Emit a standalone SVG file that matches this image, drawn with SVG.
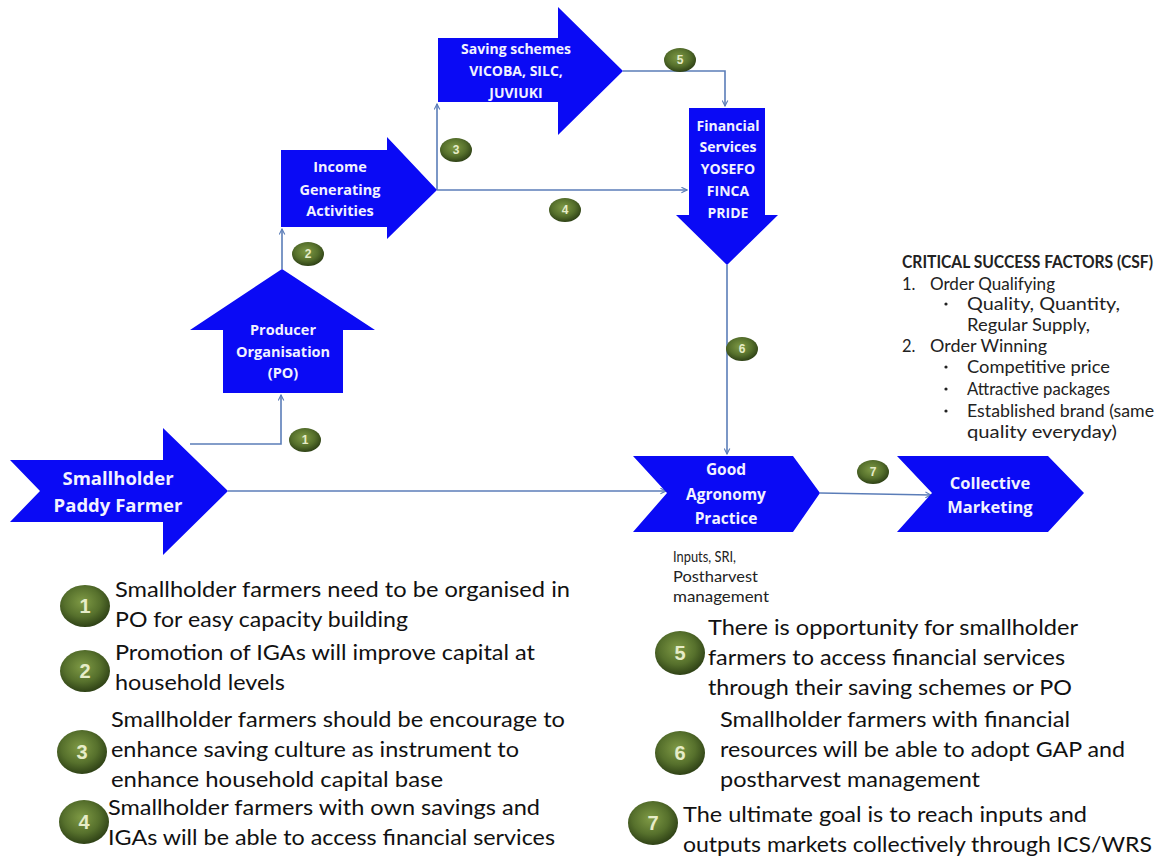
<svg xmlns="http://www.w3.org/2000/svg" width="1165" height="859" viewBox="0 0 1165 859">
  <defs>
    <radialGradient id="badgeFill" cx="45%" cy="40%" r="60%">
      <stop offset="0" stop-color="#7f9a45"/>
      <stop offset="0.6" stop-color="#56702c"/>
      <stop offset="1" stop-color="#2f4216"/>
    </radialGradient>
    <marker id="arr" viewBox="0 0 10 10" refX="9" refY="5" markerWidth="7" markerHeight="7" orient="auto" markerUnits="userSpaceOnUse">
      <path d="M1,1 L9,5 L1,9" fill="none" stroke="#5b7db8" stroke-width="1.6"/>
    </marker>
    <style>
      .shape { fill: #0a0af5; }
      .lbl { font-family: "Open Sans", "Liberation Sans", sans-serif; font-weight: bold; fill: #f2f2ff; text-anchor: middle; }
      .conn { fill: none; stroke: #5b7db8; stroke-width: 1.6; marker-end: url(#arr); }
      .badge { fill: url(#badgeFill); }
      .bnum { font-family: "Liberation Sans", sans-serif; font-weight: bold; fill: #e6ecc8; text-anchor: middle; }
      .note { font-family: Lato, "Liberation Sans", sans-serif; font-size: 21px; fill: #111; }
      .csf { font-family: Lato, "Liberation Sans", sans-serif; font-size: 16.5px; fill: #222; }
      .dot { fill: #222; }
      .small { font-family: Lato, "Liberation Sans", sans-serif; font-size: 16px; fill: #222; }
    </style>
  </defs>

  <rect width="1165" height="859" fill="#ffffff"/>

  <!-- connectors -->
  <g id="connectors">
    <path class="conn" d="M190,444 H281 V395"/>
    <path class="conn" d="M282,269 V229"/>
    <path class="conn" d="M437,190 V104"/>
    <path class="conn" d="M437,190 H687"/>
    <path class="conn" d="M623,71 H725 V106"/>
    <path class="conn" d="M727,265 V454"/>
    <path class="conn" d="M228,491 H666"/>
    <path class="conn" d="M820,493 L931,495"/>
  </g>

  <!-- flow nodes -->
  <g id="farmer">
    <polygon class="shape" points="10,460 163,460 163,428 228,491 163,555 163,522 10,522 40,491"/>
    <text class="lbl" font-size="18.5" x="118" y="485">Smallholder</text>
    <text class="lbl" font-size="18.5" x="118" y="512">Paddy Farmer</text>
  </g>

  <g id="producer-organisation">
    <polygon class="shape" points="282,269 375,330 343,330 343,393 223,393 223,330 190,330"/>
    <text class="lbl" font-size="14.5" x="283" y="335">Producer</text>
    <text class="lbl" font-size="14.5" x="283" y="357">Organisation</text>
    <text class="lbl" font-size="14.5" x="283" y="378">(PO)</text>
  </g>

  <g id="income-generating">
    <polygon class="shape" points="281,150 387,150 387,137 437,190 387,239 387,227 281,227"/>
    <text class="lbl" font-size="14.5" x="340" y="172">Income</text>
    <text class="lbl" font-size="14.5" x="340" y="195">Generating</text>
    <text class="lbl" font-size="14.5" x="340" y="216">Activities</text>
  </g>

  <g id="saving-schemes">
    <polygon class="shape" points="438,38 558,38 558,7 623,71 558,135 558,102 438,102"/>
    <text class="lbl" font-size="14" x="516" y="54">Saving schemes</text>
    <text class="lbl" font-size="14" x="516" y="76">VICOBA, SILC,</text>
    <text class="lbl" font-size="14" x="516" y="98">JUVIUKI</text>
  </g>

  <g id="financial-services">
    <polygon class="shape" points="689,108 765,108 765,215 778,215 727,265 676,215 689,215"/>
    <text class="lbl" font-size="14" x="728" y="131">Financial</text>
    <text class="lbl" font-size="14" x="728" y="152">Services</text>
    <text class="lbl" font-size="14" x="728" y="174">YOSEFO</text>
    <text class="lbl" font-size="14" x="728" y="196">FINCA</text>
    <text class="lbl" font-size="14" x="728" y="218">PRIDE</text>
  </g>

  <g id="good-agronomy">
    <polygon class="shape" points="633,456 793,456 820,493 793,532 633,532 667,493"/>
    <text class="lbl" font-size="15.5" x="726" y="475">Good</text>
    <text class="lbl" font-size="15.5" x="726" y="500">Agronomy</text>
    <text class="lbl" font-size="15.5" x="726" y="524">Practice</text>
    <text class="small" x="673" y="562" textLength="63" lengthAdjust="spacingAndGlyphs">Inputs, SRI,</text>
    <text class="small" x="673" y="582" textLength="85" lengthAdjust="spacingAndGlyphs">Postharvest</text>
    <text class="small" x="673" y="602" textLength="96" lengthAdjust="spacingAndGlyphs">management</text>
  </g>

  <g id="collective-marketing">
    <polygon class="shape" points="897,456 1048,456 1084,493 1048,532 897,532 932,493"/>
    <text class="lbl" font-size="16.5" x="990" y="489">Collective</text>
    <text class="lbl" font-size="16.5" x="990" y="513">Marketing</text>
  </g>

  <!-- step badges on the flow -->
  <g id="step-badges">
    <ellipse class="badge" cx="305" cy="440" rx="16" ry="12"/>
    <text class="bnum" font-size="12" x="305" y="444">1</text>
    <ellipse class="badge" cx="308" cy="254" rx="16" ry="12"/>
    <text class="bnum" font-size="12" x="308" y="258">2</text>
    <ellipse class="badge" cx="456" cy="150" rx="16" ry="12"/>
    <text class="bnum" font-size="12" x="456" y="154">3</text>
    <ellipse class="badge" cx="565" cy="210" rx="16" ry="12"/>
    <text class="bnum" font-size="12" x="565" y="214">4</text>
    <ellipse class="badge" cx="680" cy="60" rx="16" ry="12"/>
    <text class="bnum" font-size="12" x="680" y="64">5</text>
    <ellipse class="badge" cx="742" cy="349" rx="16" ry="12"/>
    <text class="bnum" font-size="12" x="742" y="353">6</text>
    <ellipse class="badge" cx="873" cy="472" rx="16" ry="12"/>
    <text class="bnum" font-size="12" x="873" y="476">7</text>
  </g>

  <!-- critical success factors -->
  <g id="csf">
    <text class="csf" x="902" y="268" font-weight="bold" textLength="251" lengthAdjust="spacingAndGlyphs">CRITICAL SUCCESS FACTORS (CSF)</text>
    <text class="csf" x="902" y="290">1.</text>
    <text class="csf" x="930" y="290" textLength="125" lengthAdjust="spacingAndGlyphs">Order Qualifying</text>
    <circle class="dot" cx="946" cy="304" r="1.6"/>
    <text class="csf" x="967" y="310" textLength="153" lengthAdjust="spacingAndGlyphs">Quality, Quantity,</text>
    <text class="csf" x="967" y="331" textLength="123" lengthAdjust="spacingAndGlyphs">Regular Supply,</text>
    <text class="csf" x="902" y="352">2.</text>
    <text class="csf" x="930" y="352" textLength="117" lengthAdjust="spacingAndGlyphs">Order Winning</text>
    <circle class="dot" cx="946" cy="367" r="1.6"/>
    <text class="csf" x="967" y="373" textLength="143" lengthAdjust="spacingAndGlyphs">Competitive price</text>
    <circle class="dot" cx="946" cy="389" r="1.6"/>
    <text class="csf" x="967" y="395" textLength="143" lengthAdjust="spacingAndGlyphs">Attractive packages</text>
    <circle class="dot" cx="946" cy="411" r="1.6"/>
    <text class="csf" x="967" y="417" textLength="187" lengthAdjust="spacingAndGlyphs">Established brand (same</text>
    <text class="csf" x="967" y="438" textLength="150" lengthAdjust="spacingAndGlyphs">quality everyday)</text>
  </g>

  <!-- numbered notes -->
  <g id="note-1">
    <ellipse class="badge" cx="85" cy="606" rx="25" ry="21"/>
    <text class="bnum" font-size="20" x="85" y="613">1</text>
    <text class="note" x="115" y="597" textLength="455" lengthAdjust="spacingAndGlyphs">Smallholder farmers need to be organised in</text>
    <text class="note" x="115" y="627" textLength="293" lengthAdjust="spacingAndGlyphs">PO for easy capacity building</text>
  </g>
  <g id="note-2">
    <ellipse class="badge" cx="85" cy="671" rx="25" ry="21"/>
    <text class="bnum" font-size="20" x="85" y="678">2</text>
    <text class="note" x="115" y="660" textLength="420" lengthAdjust="spacingAndGlyphs">Promotion of IGAs will improve capital at</text>
    <text class="note" x="115" y="690" textLength="170" lengthAdjust="spacingAndGlyphs">household levels</text>
  </g>
  <g id="note-3">
    <ellipse class="badge" cx="82" cy="752" rx="25" ry="22"/>
    <text class="bnum" font-size="20" x="82" y="759">3</text>
    <text class="note" x="111" y="727" textLength="454" lengthAdjust="spacingAndGlyphs">Smallholder farmers should be encourage to</text>
    <text class="note" x="111" y="757" textLength="408" lengthAdjust="spacingAndGlyphs">enhance saving culture as instrument to</text>
    <text class="note" x="111" y="787" textLength="332" lengthAdjust="spacingAndGlyphs">enhance  household capital base</text>
  </g>
  <g id="note-4">
    <ellipse class="badge" cx="84" cy="822" rx="25" ry="22"/>
    <text class="bnum" font-size="20" x="84" y="829">4</text>
    <text class="note" x="108" y="815" textLength="432" lengthAdjust="spacingAndGlyphs">Smallholder farmers with own savings and</text>
    <text class="note" x="108" y="845" textLength="447" lengthAdjust="spacingAndGlyphs">IGAs will be able to access financial services</text>
  </g>
  <g id="note-5">
    <ellipse class="badge" cx="680" cy="653" rx="25" ry="22"/>
    <text class="bnum" font-size="20" x="680" y="660">5</text>
    <text class="note" x="708" y="635" textLength="370" lengthAdjust="spacingAndGlyphs">There is opportunity for smallholder</text>
    <text class="note" x="708" y="665" textLength="357" lengthAdjust="spacingAndGlyphs">farmers to access financial services</text>
    <text class="note" x="708" y="695" textLength="364" lengthAdjust="spacingAndGlyphs">through their saving schemes or PO</text>
  </g>
  <g id="note-6">
    <ellipse class="badge" cx="680" cy="753" rx="25" ry="22"/>
    <text class="bnum" font-size="20" x="680" y="760">6</text>
    <text class="note" x="720" y="727" textLength="350" lengthAdjust="spacingAndGlyphs">Smallholder farmers with financial</text>
    <text class="note" x="720" y="757" textLength="405" lengthAdjust="spacingAndGlyphs">resources will be able to adopt GAP and</text>
    <text class="note" x="720" y="787" textLength="260" lengthAdjust="spacingAndGlyphs">postharvest management</text>
  </g>
  <g id="note-7">
    <ellipse class="badge" cx="653" cy="823" rx="25" ry="22"/>
    <text class="bnum" font-size="20" x="653" y="830">7</text>
    <text class="note" x="683" y="822" textLength="404" lengthAdjust="spacingAndGlyphs">The ultimate goal is to reach inputs and</text>
    <text class="note" x="683" y="852" textLength="469" lengthAdjust="spacingAndGlyphs">outputs markets collectively through ICS/WRS</text>
  </g>
</svg>
